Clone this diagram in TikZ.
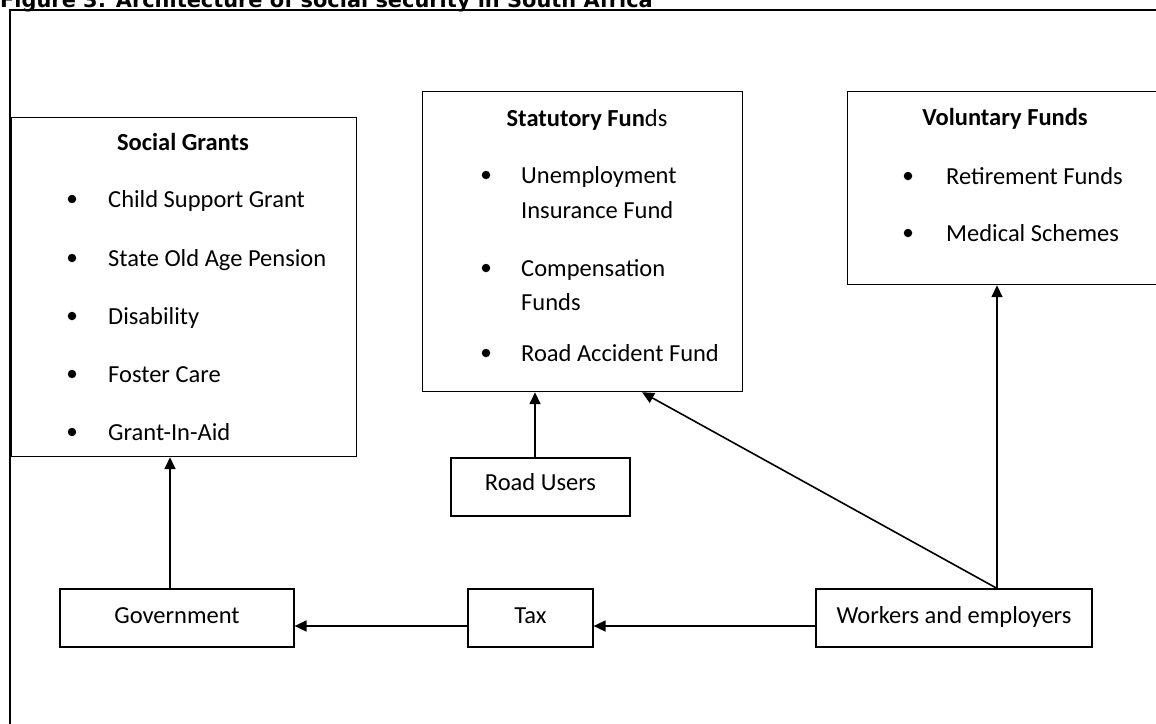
\documentclass[tikz,border=0pt]{standalone}
\usepackage{fontspec}
\setmainfont{Carlito}
\newfontfamily\titlefont{DejaVu Sans}
\usetikzlibrary{arrows.meta}
\begin{document}
\begin{tikzpicture}[x=1pt,y=-1pt,
  box/.style={draw, line width=1.2pt, inner sep=0pt},
  sbox/.style={box, font=\fontsize{24.5}{29}\selectfont, text height=16pt, text depth=6pt, minimum height=58pt},
  txt/.style={anchor=base west, inner sep=0pt, font=\fontsize{24.5}{29}\selectfont},
  ctxt/.style={anchor=base, inner sep=0pt, font=\fontsize{24.5}{29}\selectfont\bfseries},
  dot/.style={circle, fill, inner sep=0pt, minimum size=8.5pt},
  arr/.style={line width=1.6pt, -{Triangle[length=12pt,width=11pt]}},
]
\useasboundingbox (0,0) rectangle (1156,723);
\clip (0,0) rectangle (1156,723);
\fill[white] (0,0) rectangle (1156,723);
\node[anchor=base west, inner sep=0pt, font=\titlefont\bfseries\fontsize{20.9}{24}\selectfont] (title) at (0,7.5) {Figure 3: Architecture of social security in South Africa};
\draw[line width=2pt] (10,1000) -- (10,10) -- (1300,10);

% big boxes
\node[box, anchor=north west, minimum width=345pt, minimum height=339pt] (sg) at (11,117) {};
\node[box, anchor=north west, minimum width=320pt, minimum height=300pt] (stat) at (422,91) {};
\node[box, anchor=north west, minimum width=322pt, minimum height=193pt] (vol) at (847,91) {};

% Social Grants
\node[ctxt] (sgt) at (183,150) {Social Grants};
\node[dot] (sb1) at (72,199) {};
\node[dot] (sb2) at (72,258) {};
\node[dot] (sb3) at (72,316) {};
\node[dot] (sb4) at (72,374) {};
\node[dot] (sb5) at (72,432) {};
\node[txt] (s1) at (108,207) {Child Support Grant};
\node[txt] (s2) at (108,266) {State Old Age Pension};
\node[txt] (s3) at (108,324) {Disability};
\node[txt] (s4) at (108,382) {Foster Care};
\node[txt] (s5) at (108,440) {Grant-In-Aid};

% Statutory Funds
\node[anchor=base, inner sep=0pt, font=\fontsize{24.5}{29}\selectfont] (stt) at (587,126) {\textbf{Statutory Fun}ds};
\node[dot] (tb1) at (486,175) {};
\node[dot] (tb2) at (486,268) {};
\node[dot] (tb3) at (486,353) {};
\node[txt] (t1) at (521,183) {Unemployment};
\node[txt] (t1b) at (521,218) {Insurance Fund};
\node[txt] (t2) at (521,276) {Compensation};
\node[txt] (t2b) at (521,310) {Funds};
\node[txt] (t3) at (521,361) {Road Accident Fund};

% Voluntary Funds
\node[ctxt] (vt) at (1005,125) {Voluntary Funds};
\node[dot] (vb1) at (908,176) {};
\node[dot] (vb2) at (908,233) {};
\node[txt] (v1) at (946,184) {Retirement Funds};
\node[txt] (v2) at (946,241) {Medical Schemes};

% small boxes
\node[sbox, minimum width=179pt, text depth=10pt] (road) at (540.5,487) {Road Users};
\node[sbox, minimum width=234pt] (gov) at (177,618) {Government};
\node[sbox, minimum width=125pt] (tax) at (530.5,618) {Tax};
\node[sbox, minimum width=276pt] (work) at (954,618) {Workers and employers};

% connector guides
\coordinate (ga) at (170,0);
\coordinate (ra) at (535,0);
\coordinate (wa) at (997,0);
\coordinate (da) at (642,0);
\coordinate (hl) at (0,626);

\draw[arr] (gov.north -| ga) -- (sg.south -| ga);
\draw[arr] (road.north -| ra) -- (stat.south -| ra);
\draw[arr] (work.north -| wa) -- (stat.south -| da);
\draw[arr] (work.north -| wa) -- (vol.south -| wa);
\draw[arr] (work.west |- hl) -- (tax.east |- hl);
\draw[arr] (tax.west |- hl) -- (gov.east |- hl);
\end{tikzpicture}
\end{document}
